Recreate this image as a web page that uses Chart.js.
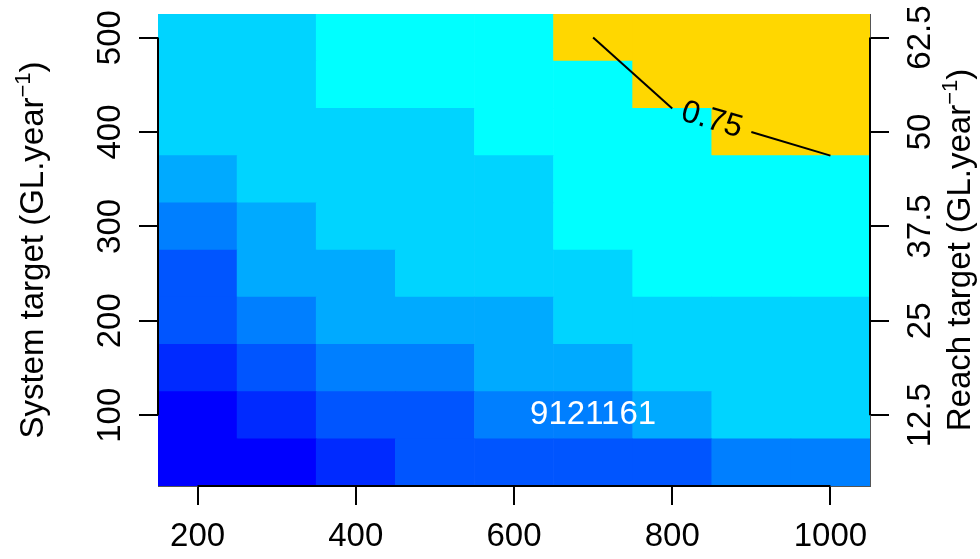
<!DOCTYPE html>
<html>
<head>
<meta charset="utf-8">
<script src="https://cdn.jsdelivr.net/npm/chart.js@4.4.1/dist/chart.umd.min.js"></script>
<style>
  html, body { margin: 0; padding: 0; background: #fff; }
</style>
</head>
<body>
<canvas id="chart" width="980" height="559"></canvas>
<script>
// system target vs reach target heat map, drawn as floating bars

const FONT = '"Liberation Sans", Arial, Helvetica, sans-serif';

const xCentres = [200, 300, 400, 500, 600, 700, 800, 900, 1000];
const yCentres = [50, 100, 150, 200, 250, 300, 350, 400, 450, 500];
const xTicks = [200, 400, 600, 800, 1000];
const yTicks = [100, 200, 300, 400, 500];
const reachTicks = [12.5, 25, 37.5, 50, 62.5];

// colour class of each cell, one row per y centre (bottom to top)
const row50  = [0, 0, 1, 2, 2, 2, 2, 3, 3];
const row100 = [0, 1, 2, 2, 3, 3, 4, 5, 5];
const row150 = [1, 2, 3, 3, 4, 4, 5, 5, 5];
const row200 = [2, 3, 4, 4, 4, 5, 5, 5, 5];
const row250 = [2, 4, 4, 5, 5, 5, 6, 6, 6];
const row300 = [3, 4, 5, 5, 5, 6, 6, 6, 6];
const row350 = [4, 5, 5, 5, 5, 6, 6, 6, 6];
const row400 = [5, 5, 5, 5, 6, 6, 6, 7, 7];
const row450 = [5, 5, 6, 6, 6, 6, 7, 7, 7];
const row500 = [5, 5, 6, 6, 6, 7, 7, 7, 7];
const rows = [row50, row100, row150, row200, row250, row300, row350, row400, row450, row500];

const classColours = ['#0000FF', '#002AFF', '#0055FF', '#007FFF', '#00AAFF', '#00D4FF', '#00FFFF', '#FFD700'];

// 0.75 contour
const contourX = [700, 800, 900, 1000];
const contourY = [500, 425, 400, 375];
const contourLabel = '0.75';

const cellNote = '9121161';
const cellNoteX = 700;
const cellNoteY = 100;

const leftTitle = 'System target (GL.year';
const rightTitle = 'Reach target (GL.year';
const titleSup = '\u22121';
const titleEnd = ')';

const reachFactor = 8;

const halfW = (xCentres[1] - xCentres[0]) / 2;
const halfH = (yCentres[1] - yCentres[0]) / 2;

const datasets = [{
  type: 'line',
  data: contourX.map((x, i) => ({ x: x, y: contourY[i] })),
  borderColor: '#000',
  borderWidth: 2,
  pointRadius: 0,
  tension: 0,
  fill: false,
  clip: false,
  order: 0,
  // no line under the label
  segment: { borderColor: c => (c.p0DataIndex === 1 ? 'rgba(0,0,0,0)' : '#000') }
}];

rows.forEach((row, r) => {
  datasets.push({
    type: 'bar',
    data: xCentres.map(x => ({ x: x, y: [yCentres[r] - halfH, yCentres[r] + halfH] })),
    backgroundColor: row.map(c => classColours[c]),
    borderWidth: 0,
    grouped: false,
    barPercentage: 1,
    categoryPercentage: 1,
    order: 1
  });
});

function drawTitle(ctx, text, x, y) {
  ctx.save();
  ctx.translate(x, y);
  ctx.rotate(-Math.PI / 2);
  ctx.fillStyle = '#000';
  ctx.textBaseline = 'alphabetic';
  ctx.textAlign = 'left';
  ctx.font = '33px ' + FONT;
  const w1 = ctx.measureText(text).width;
  const w3 = ctx.measureText(titleEnd).width;
  ctx.font = '22px ' + FONT;
  const w2 = ctx.measureText(titleSup).width;
  let cx = -(w1 + w2 + w3) / 2;
  ctx.font = '33px ' + FONT;
  ctx.fillText(text, cx, 0);
  cx += w1;
  ctx.font = '22px ' + FONT;
  ctx.fillText(titleSup, cx, -13);
  cx += w2;
  ctx.font = '33px ' + FONT;
  ctx.fillText(titleEnd, cx, 0);
  ctx.restore();
}

const extras = {
  id: 'extras',
  afterDatasetsDraw(chart) {
    const ctx = chart.ctx;
    const xs = chart.scales.x;
    const ys = chart.scales.y;

    // contour label along the hidden segment
    const x1 = xs.getPixelForValue(contourX[1]), y1 = ys.getPixelForValue(contourY[1]);
    const x2 = xs.getPixelForValue(contourX[2]), y2 = ys.getPixelForValue(contourY[2]);
    ctx.save();
    ctx.translate((x1 + x2) / 2, (y1 + y2) / 2);
    ctx.rotate(Math.atan2(y2 - y1, x2 - x1));
    ctx.font = '32px ' + FONT;
    ctx.fillStyle = '#000';
    ctx.textAlign = 'center';
    ctx.textBaseline = 'middle';
    ctx.fillText(contourLabel, 0, 0);
    ctx.restore();

    ctx.save();
    ctx.font = '33px ' + FONT;
    ctx.fillStyle = '#fff';
    ctx.textAlign = 'center';
    ctx.textBaseline = 'middle';
    ctx.fillText(cellNote, xs.getPixelForValue(cellNoteX), ys.getPixelForValue(cellNoteY));
    ctx.restore();
  },
  afterDraw(chart) {
    const ctx = chart.ctx;
    const a = chart.chartArea;
    const xs = chart.scales.x, ys = chart.scales.y, ys2 = chart.scales.y2;

    // R style axis lines, first tick to last tick
    ctx.save();
    ctx.strokeStyle = '#000';
    ctx.lineWidth = 2;
    ctx.beginPath();
    ctx.moveTo(xs.getPixelForValue(xTicks[0]), a.bottom);
    ctx.lineTo(xs.getPixelForValue(xTicks[xTicks.length - 1]), a.bottom);
    ctx.moveTo(a.left, ys.getPixelForValue(yTicks[0]));
    ctx.lineTo(a.left, ys.getPixelForValue(yTicks[yTicks.length - 1]));
    ctx.moveTo(a.right, ys2.getPixelForValue(reachTicks[0]));
    ctx.lineTo(a.right, ys2.getPixelForValue(reachTicks[reachTicks.length - 1]));
    ctx.stroke();
    ctx.restore();

    const midY = (a.top + a.bottom) / 2;
    drawTitle(ctx, leftTitle, 43, midY);
    drawTitle(ctx, rightTitle, 970, midY);
  }
};

const tickFont = { family: FONT, size: 33 };
const gridOpts = { drawOnChartArea: false, color: '#000', lineWidth: 2, tickLength: 19, offset: false };

function fixWidth(w) {
  return s => { s.width = w; s.paddingTop = 0; s.paddingBottom = 0; };
}
function fixHeight(h) {
  return s => { s.height = h; s.paddingLeft = 0; s.paddingRight = 0; };
}

new Chart(document.getElementById('chart').getContext('2d'), {
  type: 'bar',
  data: { datasets: datasets },
  options: {
    responsive: false,
    animation: false,
    events: [],
    layout: { padding: 0 },
    plugins: { legend: { display: false }, tooltip: { enabled: false } },
    scales: {
      x: {
        type: 'linear', position: 'bottom', min: 150, max: 1050, offset: false, z: 1,
        afterBuildTicks: s => { s.ticks = xTicks.map(v => ({ value: v })); },
        afterFit: fixHeight(73),
        grid: gridOpts,
        border: { color: '#555', width: 1 },
        ticks: { font: tickFont, color: '#000', padding: 12, maxRotation: 0, autoSkip: false, callback: v => String(v) }
      },
      x2: {
        type: 'linear', position: 'top', min: 150, max: 1050, offset: false, z: 1,
        afterFit: fixHeight(14),
        grid: { display: false },
        ticks: { display: false },
        border: { color: '#aaa', width: 1 }
      },
      y: {
        type: 'linear', position: 'left', min: 25, max: 525, z: 1,
        afterBuildTicks: s => { s.ticks = yTicks.map(v => ({ value: v })); },
        afterFit: fixWidth(158),
        grid: gridOpts,
        border: { color: '#555', width: 1 },
        ticks: { font: tickFont, color: '#000', padding: 1, minRotation: 90, maxRotation: 90, crossAlign: 'center', autoSkip: false, callback: v => String(v) }
      },
      y2: {
        type: 'linear', position: 'right', min: 25 / reachFactor, max: 525 / reachFactor, z: 1,
        afterBuildTicks: s => { s.ticks = reachTicks.map(v => ({ value: v })); },
        afterFit: fixWidth(110),
        grid: gridOpts,
        border: { color: '#555', width: 1 },
        ticks: { font: tickFont, color: '#000', padding: 0, minRotation: 90, maxRotation: 90, crossAlign: 'center', autoSkip: false, callback: v => String(v) }
      }
    }
  },
  plugins: [extras]
});
</script>
</body>
</html>
